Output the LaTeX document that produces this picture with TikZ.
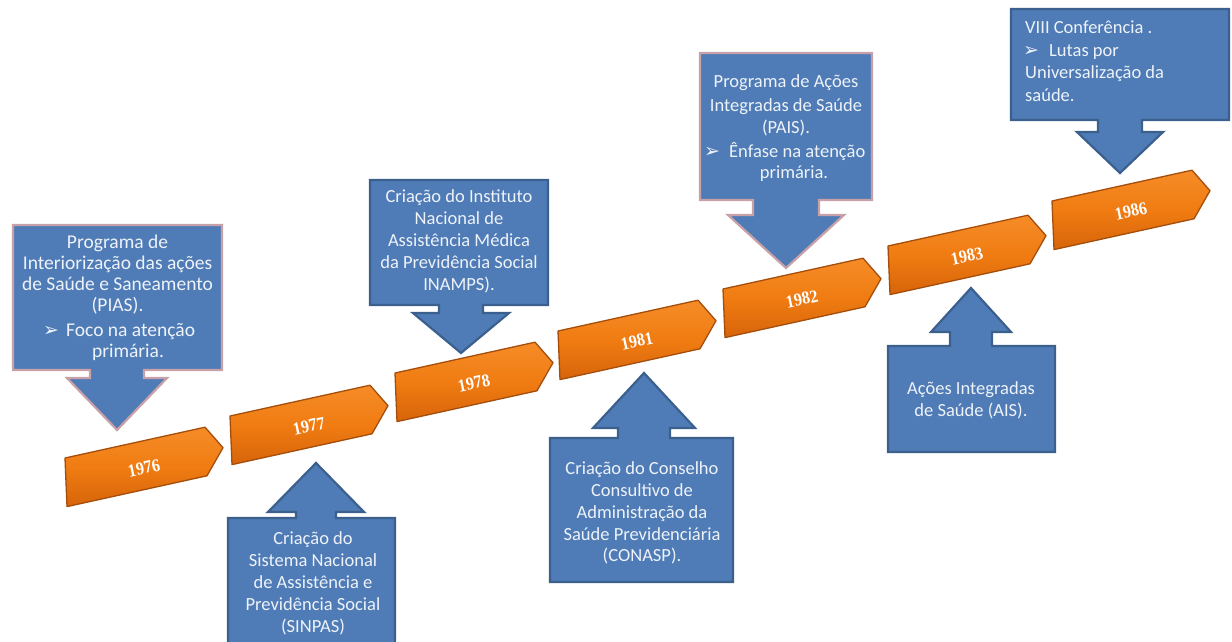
\documentclass[tikz,border=0pt]{standalone}
\usepackage{fontspec}
\setmainfont{Carlito}
\newfontfamily\yearfont[FakeStretch=0.9]{Liberation Serif}
\newfontfamily\symfont{DejaVu Sans}
\definecolor{boxblue}{RGB}{79,124,182}
\definecolor{boxline}{RGB}{60,96,142}
\definecolor{pinkline}{RGB}{200,160,168}
\definecolor{txtc}{RGB}{238,242,249}
\definecolor{orA}{RGB}{246,140,40}
\definecolor{orB}{RGB}{240,124,18}
\definecolor{orC}{RGB}{215,100,10}
\definecolor{orline}{RGB}{165,78,12}
\colorlet{cb}{boxline}
% callout: L R far-edge near-edge cx shaft-half head-base head-half tip
\newcommand{\callout}[9]{%
  \draw[fill=boxblue, draw=cb, line width=2.2pt, line join=miter]
  (#1,#3) -- (#2,#3) -- (#2,#4) -- ({#5+#6},#4) -- ({#5+#6},#7) -- ({#5+#8},#7)
  -- (#5,#9) -- ({#5-#8},#7) -- ({#5-#6},#7) -- ({#5-#6},#4) -- (#1,#4) -- cycle;}
% year arrow: x0 y0 label
\newcommand{\yeararrow}[3]{%
  \draw[top color=orA, bottom color=orC, middle color=orB, draw=orline, line width=1.3pt, line join=round]
  (#1,#2) -- ({#1+140},{#2-30.8}) -- ({#1+158},{#2-10.3}) -- ({#1+142},{#2+17.8})
  -- ({#1+2},{#2+48.6}) -- cycle;
  \node[yearlbl] (y#3) at ({#1+79},{#2+10}) {#3};}
\tikzset{
  yearlbl/.style={text=white, font=\yearfont\bfseries\fontsize{18}{20}\selectfont, rotate=12, inner sep=0pt},
  txt/.style={text=txtc, font=\fontsize{18.5}{22}\selectfont, inner sep=0pt, anchor=base},
  txtb/.style={text=txtc, font=\fontsize{19.5}{22}\selectfont, inner sep=0pt, anchor=base},
  txtl/.style={txt, anchor=base west},
  bul/.style={text=txtc, font=\symfont\fontsize{19}{20}\selectfont, inner sep=0pt, anchor=base},
}
\begin{document}
\begin{tikzpicture}[x=1pt, y=-1pt]
\fill[white] (0,0) rectangle (1232,642);
\useasboundingbox (0,0) rectangle (1232,642);

% callouts
\colorlet{cb}{pinkline}
\callout{13}{222}{225}{370}{117}{27}{378}{50}{430}
\colorlet{cb}{boxline}
\callout{228}{395}{652}{518}{316}{20}{512}{48}{463}
\callout{370}{548}{180}{305}{461}{22}{313}{48}{353}
\callout{550}{733}{582}{438}{644}{26}{428}{51}{373}
\colorlet{cb}{pinkline}
\callout{700}{872}{53}{200}{786}{33}{215}{58}{268}
\colorlet{cb}{boxline}
\callout{888}{1055}{452}{346}{971}{21}{332}{40}{288}
\callout{1011}{1229}{9}{120}{1120}{22}{132}{43}{173}

% timeline
\yeararrow{65}{458}{1976}
\yeararrow{230}{416}{1977}
\yeararrow{395}{373}{1978}
\yeararrow{558}{331}{1981}
\yeararrow{723}{289}{1982}
\yeararrow{888}{246}{1983}
\yeararrow{1052}{201}{1986}

% PIAS
\node[txtb] (p1) at (117.5,248) {Programa de};
\node[txtb] (p2) at (117.5,269) {Interiorização das ações};
\node[txtb] (p3) at (117.5,290) {de Saúde e Saneamento};
\node[txtb] (p4) at (117.5,311) {(PIAS).};
\node[bul] (pb) at (51,336) {➢};
\node[txtb, anchor=base west] (p5) at (66,336) {Foco na atenção};
\node[txtb] (p6) at (128,357) {primária.};

% SINPAS
\node[txt] (s1) at (313,544) {Criação do};
\node[txt] (s2) at (313,566) {Sistema Nacional};
\node[txt] (s3) at (313,588) {de Assistência e};
\node[txt] (s4) at (313,610) {Previdência Social};
\node[txt] (s5) at (313,632) {(SINPAS)};

% INAMPS
\node[txt] (i1) at (459,202) {Criação do Instituto};
\node[txt] (i2) at (459,224) {Nacional de};
\node[txt] (i3) at (459,246) {Assistência Médica};
\node[txt] (i4) at (459,268) {da Previdência Social};
\node[txt] (i5) at (459,290) {INAMPS).};

% CONASP
\node[txt] (c1) at (642,474) {Criação do Conselho};
\node[txt] (c2) at (642,496) {Consultivo de};
\node[txt] (c3) at (642,518) {Administração da};
\node[txt] (c4) at (642,540) {Saúde Previdenciária};
\node[txt] (c5) at (642,561) {(CONASP).};

% PAIS
\node[txt] (a1) at (786,88) {Programa de Ações};
\node[txt] (a2) at (786,111) {Integradas de Saúde};
\node[txt] (a3) at (786,133) {(PAIS).};
\node[bul] (ab) at (712,157) {➢};
\node[txtl] (a4) at (729,157) {Ênfase na atenção};
\node[txt] (a5) at (794,178) {primária.};

% AIS
\node[txt] (b1) at (971,394) {Ações Integradas};
\node[txt] (b2) at (971,416) {de Saúde (AIS).};

% VIII
\node[txtl] (v1) at (1025,34) {VIII Conferência .};
\node[bul] (vb) at (1031,57) {➢};
\node[txtl] (v2) at (1049,57) {Lutas por};
\node[txtl] (v3) at (1025,79) {Universalização da};
\node[txtl] (v4) at (1025,101) {saúde.};
\end{tikzpicture}
\end{document}
